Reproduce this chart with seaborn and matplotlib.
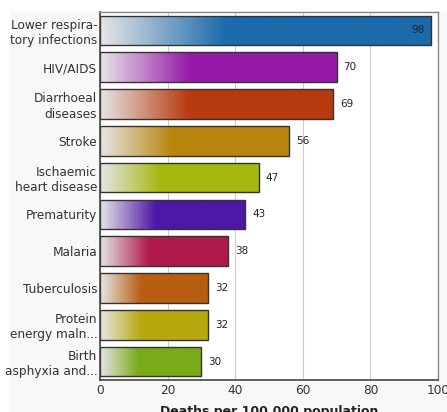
import numpy as np
import pandas as pd
import matplotlib
matplotlib.use("Agg")
import matplotlib.pyplot as plt
from matplotlib.colors import to_rgb
from matplotlib.patches import Rectangle
import seaborn as sns

causes = [
    "Lower respira-\ntory infections",
    "HIV/AIDS",
    "Diarrhoeal\ndiseases",
    "Stroke",
    "Ischaemic\nheart disease",
    "Prematurity",
    "Malaria",
    "Tuberculosis",
    "Protein\nenergy maln...",
    "Birth\nasphyxia and...",
]
deaths = [98, 70, 69, 56, 47, 43, 38, 32, 32, 30]
bar_colors = [
    "#1b6aab", "#9619a8", "#b83a10", "#b8860c", "#a6b80f",
    "#4e17a8", "#b0194c", "#b85e10", "#b8a80f", "#7aab19",
]
x_ticks = [0, 20, 40, 60, 80, 100]
x_label = "Deaths per 100,000 population"

df = pd.DataFrame({"cause": causes, "deaths": deaths})

sns.set_theme(style="white")
plt.rcParams["font.family"] = ["DejaVu Sans"]

fig = plt.figure(figsize=(4.47, 4.12), dpi=100)
fig.patch.set_facecolor("white")
# light panel behind the chart
fig.patches.append(Rectangle((10 / 447, 0), 1, 1 - 11 / 412,
                             transform=fig.transFigure, facecolor="#f8f8f8",
                             edgecolor="none", zorder=-10))
ax = fig.add_axes([100 / 447, 32 / 412, 338 / 447, 368 / 412])
ax.set_facecolor("white")

sns.barplot(data=df, x="deaths", y="cause", hue="cause", palette=bar_colors,
            orient="h", width=0.8, edgecolor="#333333", linewidth=1.0,
            legend=False, ax=ax)

light = np.array(to_rgb("#e6e6e6"))
t = np.linspace(0, 1, 400)
f = np.clip(t / 0.38, 0, 1)
for patch, col in zip(ax.patches, bar_colors):
    x0, y0 = patch.get_x(), patch.get_y()
    w, h = patch.get_width(), patch.get_height()
    c = np.array(to_rgb(col))
    grad = light[None, :] * (1 - f[:, None]) + c[None, :] * f[:, None]
    img = ax.imshow(grad[None, :, :], extent=[x0, x0 + w, y0 + h, y0],
                    aspect="auto", zorder=1.5, interpolation="bilinear")
    img.set_clip_path(patch)
    patch.set_facecolor("none")
    patch.set_zorder(2)

for i, v in enumerate(deaths):
    if v > 90:
        ax.annotate(str(v), (v, i), xytext=(-5, 0), textcoords="offset points",
                    ha="right", va="center", fontsize=7.5, color="#222222", zorder=3)
    else:
        ax.annotate(str(v), (v, i), xytext=(5, 0), textcoords="offset points",
                    ha="left", va="center", fontsize=7.5, color="#222222", zorder=3)

ax.set_xlim(0, 100)
ax.set_ylim(9.5, -0.5)
ax.set_xticks(x_ticks)
ax.xaxis.grid(True, color="#cccccc", linewidth=0.8)
ax.yaxis.grid(False)
ax.set_axisbelow(True)
ax.tick_params(axis="both", length=0, labelsize=8.7, colors="#333333")
ax.tick_params(axis="y", pad=2)
ax.tick_params(axis="x", pad=3)
ax.set_ylabel("")
ax.set_xlabel(x_label, fontsize=9, fontweight="bold", color="#222222", labelpad=6)

for side in ["left", "bottom"]:
    ax.spines[side].set_color("#444444")
    ax.spines[side].set_linewidth(1.2)
for side in ["top", "right"]:
    ax.spines[side].set_color("#888888")
    ax.spines[side].set_linewidth(1.0)

fig.savefig("out.png", dpi=100)
